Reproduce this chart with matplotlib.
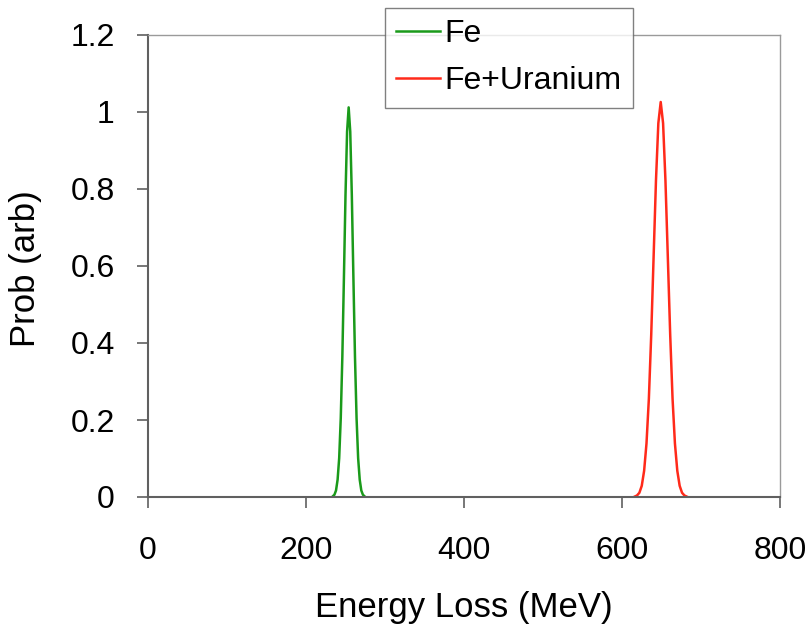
import matplotlib
matplotlib.use("Agg")
import matplotlib.pyplot as plt

# values
fe_energy = [234, 236, 238, 240, 242, 244, 246, 248, 250, 252, 254,
             256, 258, 260, 262, 264, 266, 268, 270, 272, 274]
fe_prob = [0.002, 0.006, 0.017, 0.045, 0.101, 0.205, 0.364, 0.570, 0.784, 0.949, 1.012,
           0.949, 0.784, 0.570, 0.364, 0.205, 0.101, 0.045, 0.017, 0.006, 0.002]

feu_energy = [616, 619, 622, 625, 628, 631, 634, 637, 640, 643, 646, 649,
              652, 655, 658, 661, 664, 667, 670, 673, 676, 679, 682]
feu_prob = [0.001, 0.004, 0.011, 0.029, 0.068, 0.139, 0.255, 0.422, 0.623, 0.822, 0.971, 1.026,
            0.971, 0.822, 0.623, 0.422, 0.255, 0.139, 0.068, 0.029, 0.011, 0.004, 0.001]

x_ticks = [0, 200, 400, 600, 800]
y_ticks = [0, 0.2, 0.4, 0.6, 0.8, 1.0, 1.2]
y_labels = ["0", "0.2", "0.4", "0.6", "0.8", "1", "1.2"]

plt.rcParams['font.family'] = ['Liberation Sans', 'DejaVu Sans']

fig = plt.figure(figsize=(8.12, 6.26), dpi=100)
ax = fig.add_axes([148 / 812, 129 / 626, 632 / 812, 462 / 626])

ax.plot(fe_energy, fe_prob, color='#1a9a1a', lw=1.8, label='Fe')
ax.plot(feu_energy, feu_prob, color='#ff2a1a', lw=1.8, label='Fe+Uranium')

ax.set_xlim(0, 800)
ax.set_ylim(0, 1.2)
ax.set_xticks(x_ticks)
ax.set_yticks(y_ticks)
ax.set_yticklabels(y_labels)
ax.tick_params(axis='both', labelsize=23, direction='out', length=8,
               color='#606060', width=1.2)
ax.tick_params(axis='x', pad=20)
ax.tick_params(axis='y', pad=16)

for side in ['left', 'bottom']:
    ax.spines[side].set_color('#606060')
    ax.spines[side].set_linewidth(1.5)
for side in ['top', 'right']:
    ax.spines[side].set_color('#9a9a9a')
    ax.spines[side].set_linewidth(1.0)

ax.set_xlabel('Energy Loss (MeV)', fontsize=25, labelpad=18)
ax.set_ylabel('Prob (arb)', fontsize=25)
ax.yaxis.set_label_coords(-0.168, 0.495)

leg = fig.legend(loc='upper left', bbox_to_anchor=(385 / 812, 1 - 8 / 626),
                 fontsize=23, frameon=True, fancybox=False, edgecolor='#606060',
                 handlelength=1.35, handletextpad=0.15, borderpad=0.36,
                 labelspacing=0.52, borderaxespad=0)
leg.get_frame().set_linewidth(1.0)

fig.savefig('out.png', dpi=100)
